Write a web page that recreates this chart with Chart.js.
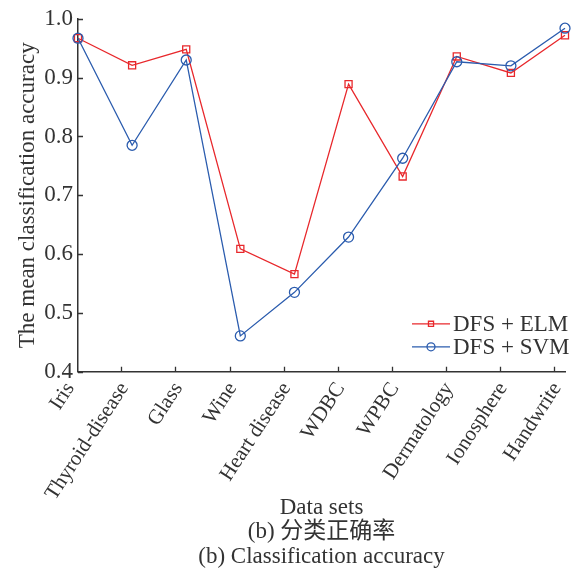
<!DOCTYPE html>
<html>
<head>
<meta charset="utf-8">
<script src="https://cdn.jsdelivr.net/npm/chart.js@4/dist/chart.umd.min.js"></script>
<style>
  html, body { margin: 0; padding: 0; background: #ffffff; }
  #wrap { width: 582px; height: 571px; }
</style>
</head>
<body>
<div id="wrap"><canvas id="acc" width="582" height="571"></canvas></div>
<script>
// Data sets on the horizontal axis
const categories = ['Iris', 'Thyroid-disease', 'Glass', 'Wine', 'Heart disease',
                    'WDBC', 'WPBC', 'Dermatology', 'Ionosphere', 'Handwrite'];
// Mean classification accuracy per data set
const elmAccuracy = [0.967, 0.921, 0.948, 0.609, 0.566, 0.889, 0.732, 0.936, 0.908, 0.972];
const svmAccuracy = [0.967, 0.785, 0.930, 0.461, 0.535, 0.629, 0.763, 0.927, 0.920, 0.984];
// Vertical axis tick values
const yTicks = [0.4, 0.5, 0.6, 0.7, 0.8, 0.9, 1.0];
const seriesNames = ['DFS + ELM', 'DFS + SVM'];
const captionLines = ['(b) 分类正确率', '(b) Classification accuracy'];

const RED = '#e8282c';
const BLUE = '#2b5cae';
const INK = '#333333';
const SERIF = '"Liberation Serif", "Noto Sans CJK SC", serif';

// Short inward tick marks on both axes (x marks sit just right of each category)
const innerTicks = {
  id: 'innerTicks',
  afterDatasetsDraw(chart) {
    const {ctx, chartArea: a, scales: {x, y}} = chart;
    ctx.save();
    ctx.strokeStyle = INK;
    ctx.lineWidth = 1.3;
    ctx.beginPath();
    yTicks.forEach(v => {
      const py = Math.round(y.getPixelForValue(v)) + 0.5;
      ctx.moveTo(a.left, py);
      ctx.lineTo(a.left + 5, py);
    });
    for (let i = 0; i < categories.length - 1; i++) {
      const px = Math.round(x.getPixelForValue(i + 0.8)) + 0.5;
      ctx.moveTo(px, a.bottom);
      ctx.lineTo(px, a.bottom - 5);
    }
    ctx.stroke();
    ctx.restore();
  }
};

// Legend in the lower right of the plot: line sample with its hollow marker, then the name
const lineLegend = {
  id: 'lineLegend',
  afterDraw(chart) {
    const {ctx, chartArea: a} = chart;
    ctx.save();
    ctx.font = '23px ' + SERIF;
    ctx.textBaseline = 'middle';
    ctx.textAlign = 'left';
    chart.data.datasets.forEach((ds, i) => {
      const cy = a.bottom - 48 + i * 23;
      const x0 = a.right - 153, x1 = a.right - 115;
      ctx.strokeStyle = ds.borderColor;
      ctx.fillStyle = 'rgba(0,0,0,0)';
      ctx.lineWidth = 1.3;
      ctx.beginPath();
      ctx.moveTo(x0, cy);
      ctx.lineTo(x1, cy);
      ctx.stroke();
      Chart.helpers.drawPoint(ctx, {
        pointStyle: ds.pointStyle,
        radius: ds.pointStyle === 'rect' ? 3.6 : 4,
        borderWidth: 1.3,
        rotation: 0
      }, (x0 + x1) / 2, cy);
      ctx.fillStyle = INK;
      ctx.fillText(ds.label, x1 + 3, cy + 1);
    });
    ctx.restore();
  }
};

new Chart(document.getElementById('acc'), {
  type: 'line',
  data: {
    labels: categories,
    datasets: [
      {
        label: seriesNames[0],
        data: elmAccuracy,
        borderColor: RED,
        backgroundColor: 'rgba(0,0,0,0)',
        borderWidth: 1.3,
        pointStyle: 'rect',
        pointRadius: 5,
        pointBorderWidth: 1.3,
        pointBackgroundColor: 'rgba(0,0,0,0)',
        pointBorderColor: RED,
        tension: 0,
        order: 1
      },
      {
        label: seriesNames[1],
        data: svmAccuracy,
        borderColor: BLUE,
        backgroundColor: 'rgba(0,0,0,0)',
        borderWidth: 1.3,
        pointStyle: 'circle',
        pointRadius: 5,
        pointBorderWidth: 1.3,
        pointBackgroundColor: 'rgba(0,0,0,0)',
        pointBorderColor: BLUE,
        tension: 0,
        order: 0
      }
    ]
  },
  options: {
    responsive: false,
    animation: false,
    events: [],
    layout: { padding: { top: 16, right: 17, bottom: 0, left: 0 } },
    plugins: {
      legend: { display: false },
      tooltip: { enabled: false },
      title: {
        display: true,
        position: 'bottom',
        fullSize: false,
        text: captionLines,
        color: INK,
        font: { family: SERIF, size: 23, weight: 'normal', lineHeight: 1.07 },
        padding: { top: 0, bottom: 2 }
      }
    },
    scales: {
      x: {
        type: 'category',
        offset: false,
        grid: { display: false, drawTicks: false },
        border: { display: true, color: INK, width: 1.5 },
        ticks: {
          color: INK,
          autoSkip: false,
          minRotation: 57,
          maxRotation: 57,
          padding: 6,
          labelOffset: -8,
          font: { family: SERIF, size: 21 }
        },
        title: {
          display: true,
          text: 'Data sets',
          color: INK,
          font: { family: SERIF, size: 23, lineHeight: 1.07 },
          padding: { top: 0, bottom: 0 }
        },
        afterFit(scale) {
          scale.height = 148;
          scale.paddingLeft = 0;
          scale.paddingRight = 0;
        }
      },
      y: {
        type: 'linear',
        min: 0.4,
        max: 1.0,
        grid: { display: false, drawTicks: false },
        border: { display: true, color: INK, width: 1.5 },
        afterBuildTicks(scale) { scale.ticks = yTicks.map(v => ({ value: v })); },
        ticks: {
          color: INK,
          padding: 5,
          font: { family: SERIF, size: 23 },
          callback: v => Number(v).toFixed(1)
        },
        title: {
          display: true,
          text: 'The mean classification accuracy',
          color: INK,
          font: { family: SERIF, size: 23, lineHeight: 1.07 },
          padding: { top: 16, bottom: 0 }
        },
        afterFit(scale) { scale.width = 78; }
      }
    }
  },
  plugins: [innerTicks, lineLegend]
});
</script>
</body>
</html>
